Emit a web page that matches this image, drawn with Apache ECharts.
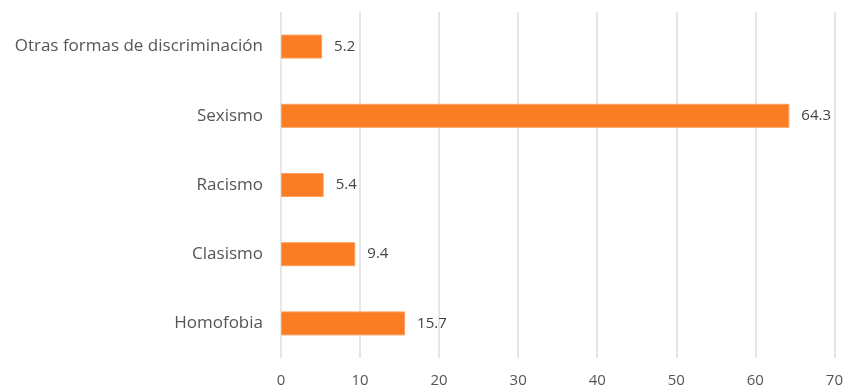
<!DOCTYPE html>
<html>
<head>
<meta charset="utf-8">
<script src="https://cdn.jsdelivr.net/npm/echarts@6/dist/echarts.min.js"></script>
<style>
  html, body { margin: 0; padding: 0; background: #fff; }
  #chart { width: 846px; height: 388px; }
</style>
</head>
<body>
<div id="chart"></div>
<script>
// categories listed bottom to top (ECharts category y axis starts at the bottom)
var categories = ['Homofobia', 'Clasismo', 'Racismo', 'Sexismo', 'Otras formas de discriminación'];
var values = [15.7, 9.4, 5.4, 64.3, 5.2];

var chart = echarts.init(document.getElementById('chart'));
var option = {
  animation: false,
  textStyle: { fontFamily: '"Open Sans", sans-serif' },
  grid: { left: 281, right: 9, top: 12, bottom: 29 },
  xAxis: {
    type: 'value',
    min: 0,
    max: 70,
    interval: 10,
    axisLine: { show: false },
    axisTick: { show: false },
    splitLine: { lineStyle: { color: '#dedede', width: 1.5 } },
    axisLabel: { color: '#555', fontSize: 15, margin: 15 }
  },
  yAxis: {
    type: 'category',
    data: categories,
    axisLine: { show: false },
    axisTick: { show: false },
    axisLabel: { color: '#555', fontSize: 17, margin: 18 }
  },
  series: [{
    type: 'bar',
    data: values,
    barWidth: 24,
    itemStyle: { color: '#fb7d23', borderColor: '#fda062', borderWidth: 1 },
    label: {
      show: true,
      position: 'right',
      distance: 12,
      color: '#444',
      fontSize: 15,
      formatter: function (p) { return p.value.toFixed(1); }
    }
  }]
};
chart.setOption(option);
</script>
</body>
</html>
